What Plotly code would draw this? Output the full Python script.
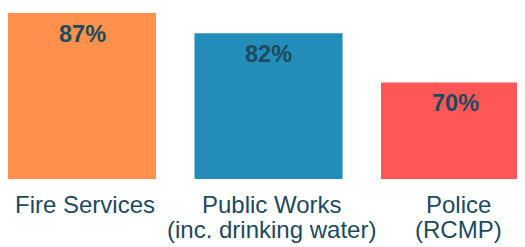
import plotly.graph_objects as go

categories = ["Fire Services", "Public Works<br>(inc. drinking water)", "Police<br>(RCMP)"]
values = [87, 82, 70]
value_labels = ["87%", "82%", "70%"]
colors = ["#FF914D", "#238DB9", "#FF5757"]

TEXT_COLOR = "#1C4A5E"
FONT = "Liberation Sans, Arial, sans-serif"

xs = list(range(len(categories)))

fig = go.Figure(
    go.Bar(
        x=xs,
        y=values,
        marker=dict(color=colors, line=dict(width=0)),
        width=0.794,
        hoverinfo="skip",
    )
)

annotations = []
for x, v, t in zip(xs, values, value_labels):
    annotations.append(dict(
        x=x, y=v, xref="x", yref="y", text="<b>" + t + "</b>",
        showarrow=False, yanchor="top", yshift=-6,
        font=dict(size=23.5, color=TEXT_COLOR, family=FONT),
    ))
for x, cat in zip(xs, categories):
    for i, line in enumerate(cat.split("<br>")):
        annotations.append(dict(
            x=x, y=0, xref="x", yref="paper", text=line,
            showarrow=False, yanchor="top", yshift=-10 - 25 * i, xshift=3,
            font=dict(size=24, color=TEXT_COLOR, family=FONT),
        ))

fig.update_layout(
    width=525, height=247,
    margin=dict(l=0, r=0, t=0, b=76),
    paper_bgcolor="white", plot_bgcolor="white",
    showlegend=False,
    xaxis=dict(range=[-0.397, 2.418], visible=False, fixedrange=True),
    yaxis=dict(range=[46.4, 88.2], visible=False, fixedrange=True),
    annotations=annotations,
)

fig.write_html("out.html")
